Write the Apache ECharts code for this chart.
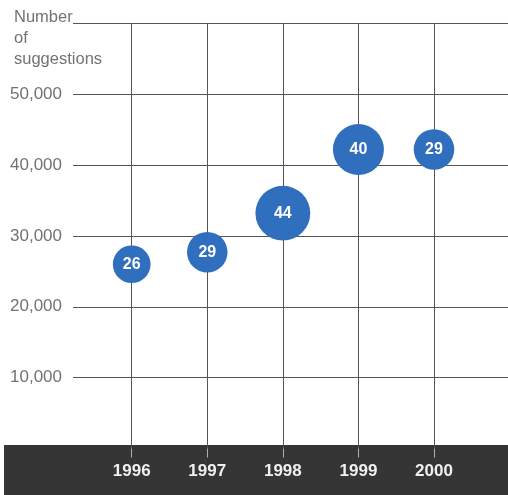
<!DOCTYPE html>
<html>
<head>
<meta charset="utf-8">
<title>Number of suggestions</title>
<script src="https://cdn.jsdelivr.net/npm/echarts@6/dist/echarts.min.js"></script>
<style>
  html, body { margin: 0; padding: 0; background: #ffffff; }
  #chart { width: 508px; height: 495px; }
</style>
</head>
<body>
<div id="chart"></div>
<script>
// Years shown along the bottom band
const years = ['1996', '1997', '1998', '1999', '2000'];
// Number of suggestions received each year
const suggestions = [26000, 27700, 33200, 42200, 42200];
// Figure printed inside each bubble (also drives bubble size)
const bubbleLabels = [26, 29, 44, 40, 29];
// Value-axis ticks
const yTicks = [0, 10000, 20000, 30000, 40000, 50000, 60000];

const FONT = '"Liberation Sans", Arial, Helvetica, sans-serif';
const LINE = '#555555';
const TEXT = '#727272';

const chart = echarts.init(document.getElementById('chart'), null, { renderer: 'canvas' });

const points = years.map((y, i) => [y, suggestions[i], bubbleLabels[i]]);

const gridTop = 23.3;
const gridBottom = 46.5;

chart.setOption({
  animation: false,
  backgroundColor: '#ffffff',
  graphic: [
    {
      type: 'rect',
      z: -1,
      shape: { x: 4, y: 445, width: 504, height: 50 },
      style: { fill: '#353535' }
    },
    {
      type: 'text',
      left: 14,
      top: 7,
      style: {
        text: 'Number\nof\nsuggestions',
        font: '16.5px ' + FONT,
        fill: TEXT,
        lineHeight: 21
      }
    }
  ],
  grid: [
    // horizontal rules and value labels
    { left: 73, right: 0, top: gridTop, bottom: gridBottom },
    // year columns and bubbles
    { left: 131.7, width: 302.3, top: gridTop, bottom: gridBottom }
  ],
  xAxis: [
    {
      gridIndex: 0,
      type: 'value',
      min: 0,
      max: 1,
      show: false
    },
    {
      gridIndex: 1,
      type: 'category',
      data: years,
      boundaryGap: false,
      axisLine: { show: false },
      axisTick: { show: true, length: 9, lineStyle: { color: '#b0b0b0', width: 1 } },
      splitLine: { show: true, lineStyle: { color: LINE, width: 1 } },
      axisLabel: {
        margin: 14,
        color: '#f0f0f0',
        fontFamily: FONT,
        fontWeight: 'bold',
        fontSize: 17
      }
    }
  ],
  yAxis: [
    {
      gridIndex: 0,
      type: 'value',
      min: yTicks[0],
      max: yTicks[yTicks.length - 1],
      interval: yTicks[1] - yTicks[0],
      axisLine: { show: false },
      axisTick: { show: false },
      splitLine: { show: true, showMinLine: false, lineStyle: { color: LINE, width: 1 } },
      axisLabel: {
        margin: 11,
        color: TEXT,
        fontFamily: FONT,
        fontSize: 17,
        formatter: v => (v === yTicks[0] || v === yTicks[yTicks.length - 1])
          ? '' : v.toLocaleString('en-US')
      }
    },
    {
      gridIndex: 1,
      type: 'value',
      min: yTicks[0],
      max: yTicks[yTicks.length - 1],
      show: false
    }
  ],
  series: [
    {
      type: 'scatter',
      xAxisIndex: 1,
      yAxisIndex: 1,
      clip: false,
      data: points,
      symbol: 'circle',
      symbolSize: d => 13 + 0.95 * d[2],
      itemStyle: { color: '#2f6fbe', opacity: 1 },
      label: {
        show: true,
        position: 'inside',
        formatter: p => String(p.data[2]),
        color: '#ffffff',
        fontFamily: FONT,
        fontSize: 16,
        fontWeight: 'bold'
      },
      z: 5
    }
  ]
});
</script>
</body>
</html>
